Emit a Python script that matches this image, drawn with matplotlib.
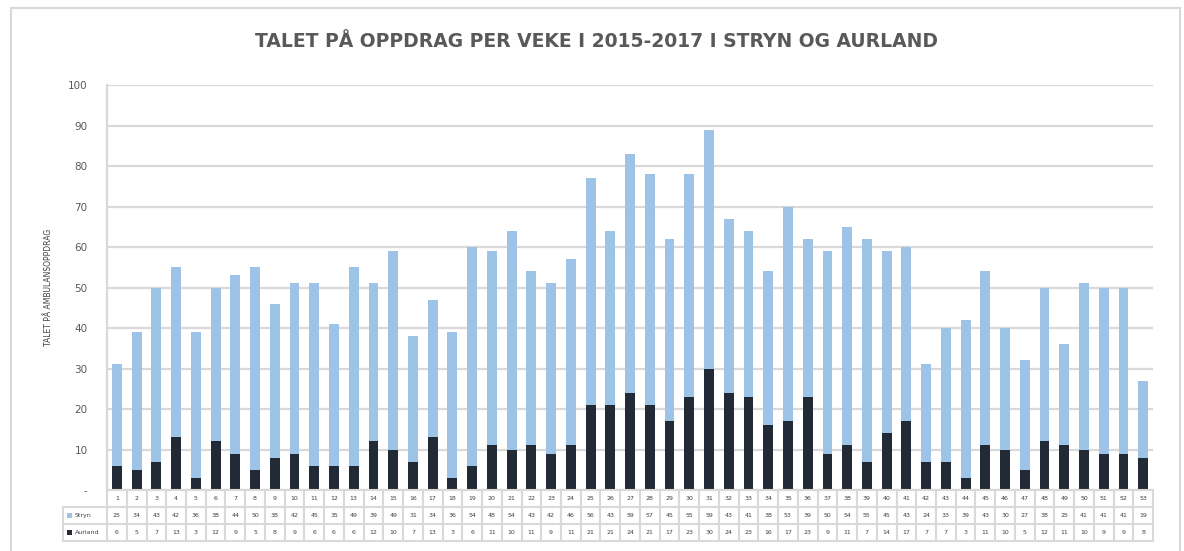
import matplotlib.pyplot as plt
from matplotlib.patches import Rectangle

weeks = [str(w) for w in range(1, 54)]
stryn = [25, 34, 43, 42, 36, 38, 44, 50, 38, 42, 45, 35, 49, 39, 49, 31, 34, 36,
         54, 48, 54, 43, 42, 46, 56, 43, 59, 57, 45, 55, 59, 43, 41, 38, 53, 39,
         50, 54, 55, 45, 43, 24, 33, 39, 43, 30, 27, 38, 25, 41, 41, 41, 19]
aurland = [6, 5, 7, 13, 3, 12, 9, 5, 8, 9, 6, 6, 6, 12, 10, 7, 13, 3,
           6, 11, 10, 11, 9, 11, 21, 21, 24, 21, 17, 23, 30, 24, 23, 16, 17, 23,
           9, 11, 7, 14, 17, 7, 7, 3, 11, 10, 5, 12, 11, 10, 9, 9, 8]

c_stryn = "#9dc3e6"
c_aur = "#222a35"
grid_c = "#d9d9d9"
txt_c = "#595959"

fig = plt.figure(figsize=(11.84, 5.51), dpi=100)
fig.patches.append(Rectangle((0.009, -0.01), 0.988, 0.995, transform=fig.transFigure,
                             fill=False, edgecolor=grid_c, linewidth=1.5))

ax = fig.add_axes([0.0904, 0.1107, 0.8835, 0.735])
x = range(len(weeks))
ax.bar(x, aurland, width=0.5, color=c_aur, zorder=3)
ax.bar(x, stryn, width=0.5, bottom=aurland, color=c_stryn, zorder=3)

ax.set_xlim(-0.5, len(weeks) - 0.5)
ax.set_ylim(0, 100)
ax.set_yticks(range(0, 101, 10))
ax.set_yticklabels(["-"] + [str(v) for v in range(10, 101, 10)], color=txt_c, fontsize=7.5)
ax.tick_params(axis="y", length=0, pad=14)
ax.set_xticks([])
ax.grid(axis="y", color=grid_c, linewidth=1.6, zorder=0)
for s in ["top", "right", "bottom"]:
    ax.spines[s].set_visible(False)
ax.spines["left"].set_color(grid_c)
ax.spines["left"].set_linewidth(1.6)
ax.set_ylabel("TALET PÅ AMBULANSOPPDRAG", fontsize=5.5, color="#404040", labelpad=11)

fig.text(0.504, 0.924, "TALET PÅ OPPDRAG PER VEKE I 2015-2017 I STRYN OG AURLAND",
         ha="center", va="center", fontsize=13.5, fontweight="bold", color=txt_c)

# data table under the chart
tab = fig.add_axes([0.0904, 0.018, 0.8835, 0.0925])
tab.set_xlim(-0.5, len(weeks) - 0.5)
tab.set_ylim(0, 3)
tab.axis("off")
rows = [weeks, [str(v) for v in stryn], [str(v) for v in aurland]]
for r, vals in enumerate(rows):
    y0 = 2 - r
    for i, v in enumerate(vals):
        tab.add_patch(Rectangle((i - 0.5, y0), 1, 1, facecolor="white",
                                edgecolor=grid_c, linewidth=1.5, clip_on=False))
        tab.text(i, y0 + 0.5, v, ha="center", va="center", fontsize=4.5, color="#404040")

lw = 2.25
for r, (name, col) in enumerate([("Stryn", c_stryn), ("Aurland", c_aur)]):
    y0 = 1 - r
    tab.add_patch(Rectangle((-0.5 - lw, y0), lw, 1, facecolor="white",
                            edgecolor=grid_c, linewidth=1.5, clip_on=False))
    tab.add_patch(Rectangle((-0.5 - lw + 0.2, y0 + 0.35), 0.3, 0.3, facecolor=col,
                            edgecolor="none", clip_on=False))
    tab.text(-0.5 - lw + 0.6, y0 + 0.5, name, ha="left", va="center",
             fontsize=4.5, color="#404040", clip_on=False)

fig.savefig("out.png", dpi=100)
